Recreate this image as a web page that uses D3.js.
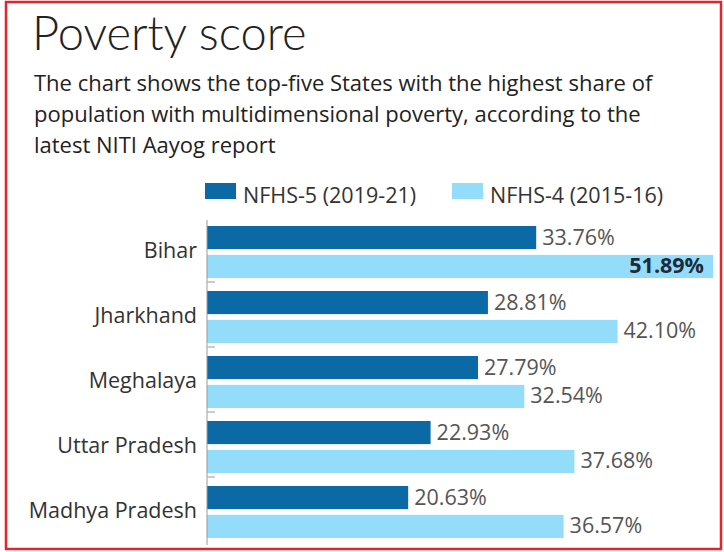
<!DOCTYPE html>
<html><head><meta charset="utf-8">
<script src="https://cdn.jsdelivr.net/npm/d3@7"></script>
<style>html,body{margin:0;padding:0;background:#fff;}svg{display:block;}</style>
</head><body>
<svg id="chart" width="724" height="552"></svg>
<script>
const states = ["Bihar", "Jharkhand", "Meghalaya", "Uttar Pradesh", "Madhya Pradesh"];
const seriesNames = ["NFHS-5 (2019-21)", "NFHS-4 (2015-16)"];
const nfhs5 = [33.76, 28.81, 27.79, 22.93, 20.63];
const nfhs4 = [51.89, 42.10, 32.54, 37.68, 36.57];
const colors = ["#0b6aa6", "#93dcfa"];
const titleText = "Poverty score";
const subtitleLines = [
  "The chart shows the top-five States with the highest share of",
  "population with multidimensional poverty, according to the",
  "latest NITI Aayog report"
];

const font = "'Open Sans', sans-serif";
const svg = d3.select("#chart");

// border
svg.append("rect").attr("x", 6).attr("y", 2).attr("width", 715).attr("height", 547)
  .attr("fill", "none").attr("stroke", "#e4232b").attr("stroke-width", 2.5);

svg.append("text").attr("x", 32).attr("y", 50).text(titleText)
  .attr("font-family", "Lato, sans-serif").attr("font-weight", 300).attr("font-size", 47).attr("fill", "#222");

svg.selectAll("text.sub").data(subtitleLines).enter().append("text").attr("class", "sub")
  .attr("x", 34).attr("y", (d, i) => 91 + i * 31).text(d => d)
  .attr("font-family", font).attr("font-size", 22).attr("fill", "#222");

const x0 = 207;
const x = d3.scaleLinear().domain([0, 51.89]).range([x0, 713]);
const y = d3.scaleBand().domain(states).range([218, 543]).paddingInner(0);
const ySub = d3.scaleBand().domain([0, 1]).range([8, 60]).paddingInner(0.2);

const data = states.map((s, i) => ({ state: s, values: [nfhs5[i], nfhs4[i]] }));

// legend
const legend = svg.append("g");
const legendX = [205, 452];
seriesNames.forEach((n, i) => {
  legend.append("rect").attr("x", legendX[i]).attr("y", 183).attr("width", 31).attr("height", 16).attr("fill", colors[i]);
  legend.append("text").attr("x", legendX[i] + 38).attr("y", 203).text(n)
    .attr("font-family", font).attr("font-size", 21.5).attr("fill", "#333");
});

const groups = svg.selectAll("g.grp").data(data).enter().append("g").attr("class", "grp")
  .attr("transform", d => `translate(0,${y(d.state)})`);

groups.selectAll("rect").data(d => d.values.map((v, k) => ({ v, k }))).enter().append("rect")
  .attr("x", x(0)).attr("y", d => ySub(d.k)).attr("width", d => x(d.v) - x(0))
  .attr("height", ySub.bandwidth()).attr("fill", d => colors[d.k]);

const maxV = d3.max(nfhs4.concat(nfhs5));
groups.selectAll("text.val").data(d => d.values.map((v, k) => ({ v, k }))).enter().append("text").attr("class", "val")
  .attr("x", d => d.v === maxV ? x(d.v) - 9 : x(d.v) + 6)
  .attr("y", d => ySub(d.k) + ySub.bandwidth() / 2 + 7)
  .attr("text-anchor", d => d.v === maxV ? "end" : "start")
  .attr("font-family", font).attr("font-size", 21.5)
  .attr("font-weight", d => d.v === maxV ? 700 : 400)
  .attr("fill", d => d.v === maxV ? "#1d2b3a" : "#555")
  .text(d => d.v.toFixed(2) + "%");

// axis
const axis = d3.axisLeft(y).tickSize(0).tickPadding(10);
const ag = svg.append("g").attr("transform", `translate(${x0},0)`).call(axis);
ag.select(".domain").attr("stroke", "#999").attr("d", "M0,220V545");
ag.selectAll(".tick text").attr("font-family", font).attr("font-size", 21.5).attr("fill", "#333").attr("dy", "0.36em");

// small separators between groups
svg.selectAll("line.sep").data(states.slice(1)).enter().append("line").attr("class", "sep")
  .attr("x1", x0).attr("x2", x0 + 8).attr("y1", d => y(d) - 1).attr("y2", d => y(d) - 1)
  .attr("stroke", "#bbb").attr("stroke-width", 1.5);
</script>
</body></html>
